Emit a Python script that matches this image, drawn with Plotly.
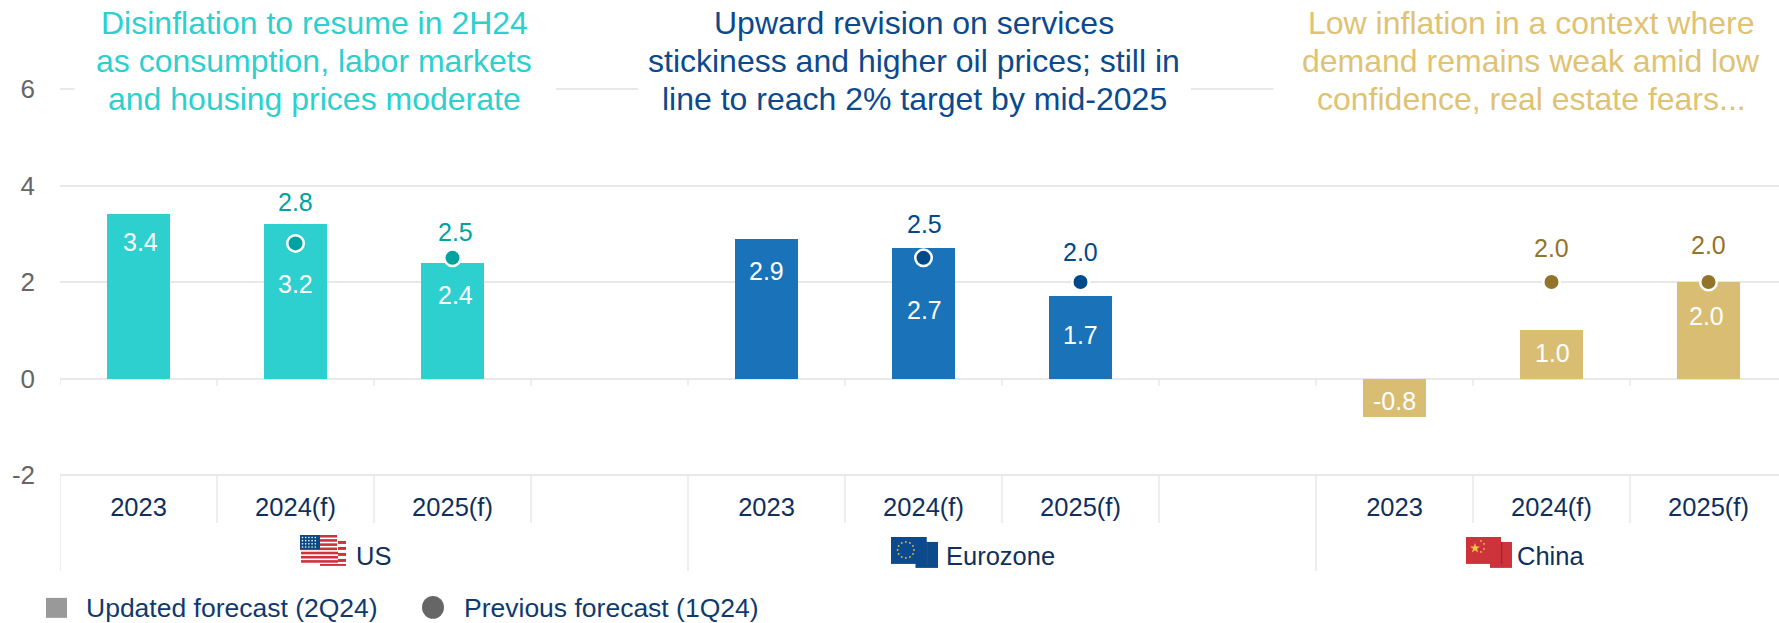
import plotly.graph_objects as go
from urllib.parse import quote

W, H = 1779, 623
UNIT = 48.3  # pixels per percentage point on the y axis
EDGE = 3     # spare pixels past the outer gridlines so they stay drawn
ML, MT, MB = 60, 88.6 - EDGE, 148 - EDGE
PLOT_W = W - ML
PLOT_H = H - MT - MB
BAND = 157  # pixel width of one category on the x axis
FONT = "Liberation Sans, Arial, sans-serif"

# Chart data
years = ["2023", "2024(f)", "2025(f)", "", "2023", "2024(f)", "2025(f)", "", "2023", "2024(f)", "2025(f)"]
us_idx = [0, 1, 2]
ez_idx = [4, 5, 6]
cn_idx = [8, 9, 10]
us_updated = [3.4, 3.2, 2.4]
ez_updated = [2.9, 2.7, 1.7]
cn_updated = [-0.8, 1.0, 2.0]
us_previous = [None, 2.8, 2.5]
ez_previous = [None, 2.5, 2.0]
cn_previous = [None, 2.0, 2.0]
y_ticks = [-2, 0, 2, 4, 6]
y_tick_text = ["-2", "0", "2", "4", "6"]

TEAL, TEAL_DK = "#2dcfcf", "#00a39f"
BLUE, BLUE_DK = "#1a73b8", "#004a8b"
GOLD, GOLD_DK = "#d8bd73", "#94742a"
NAVY = "#0f2f5c"
LEGEND_NAVY = "#0f3a6e"
GRID = "#e8e8e8"


def py(pixel):
    """Paper coordinate of a pixel row of the page."""
    return (H - MB - pixel) / PLOT_H


def px(pixel):
    """Paper coordinate of a pixel column of the page."""
    return (pixel - ML) / PLOT_W


fig = go.Figure()

regions = [
    (us_idx, us_updated, us_previous, TEAL, TEAL_DK),
    (ez_idx, ez_updated, ez_previous, BLUE, BLUE_DK),
    (cn_idx, cn_updated, cn_previous, GOLD, GOLD_DK),
]
for idx, upd, prev, col, dark in regions:
    fig.add_bar(x=idx, y=upd, width=0.395, marker=dict(color=col, line_width=0), showlegend=False)
for idx, upd, prev, col, dark in regions:
    fig.add_scatter(x=idx, y=prev, mode="markers", showlegend=False,
                    marker=dict(color=dark, size=16.5, line=dict(color="white", width=2.5)))

annotations = []


def label(x, y, text, color, shift, xshift=0):
    annotations.append(dict(x=x, y=y, xref="x", yref="y", text=text, showarrow=False, yshift=shift, xshift=xshift,
                            font=dict(family=FONT, size=25, color=color), xanchor="center", yanchor="middle"))


# Value labels inside the bars, offset from the bar end
inner_shift = {0: [-28, -60, -32], 1: [-32, -62, -39], 2: [16, -23, -34]}
inner_xshift = {0: [2, 0, 3], 1: [0, 1, 0], 2: [0, 1, -2]}
for r, (idx, upd, prev, col, dark) in enumerate(regions):
    for i, x in enumerate(idx):
        label(x, upd[i], f"{upd[i]:.1f}", "white", inner_shift[r][i], inner_xshift[r][i])

# Previous-forecast labels above the markers
outer_shift = {0: [0, 41, 26], 1: [0, 34, 30], 2: [0, 34, 37]}
outer_xshift = {0: [0, 0, 3], 1: [0, 1, 0], 2: [0, 0, 0]}
for r, (idx, upd, prev, col, dark) in enumerate(regions):
    for i, x in enumerate(idx):
        if prev[i] is not None:
            label(x, prev[i], f"{prev[i]:.1f}", dark, outer_shift[r][i], outer_xshift[r][i])

# Commentary above each region, one annotation per line for tight leading
headers = [
    (314, ["Disinflation to resume in 2H24", "as consumption, labor markets", "and housing prices moderate"], TEAL),
    (914, ["Upward revision on services", "stickiness and higher oil prices; still in",
           "line to reach 2% target by mid-2025"], "#0b4a8c"),
    (1531, ["Low inflation in a context where", "demand remains weak amid low",
            "confidence, real estate fears..."], "#dfc273"),
]
line_rows = [23, 61, 99]
for cx, lines, col in headers:
    for row, text in zip(line_rows, lines):
        annotations.append(dict(x=px(cx), xref="paper", y=py(row), yref="paper", text=text, showarrow=False,
                                font=dict(family=FONT, size=32, color=col), xanchor="center", yanchor="middle"))

# Region names under the year labels
for x, text in [(1.372, "US"), (5.13, "Eurozone"), (8.767, "China")]:
    annotations.append(dict(x=x, xref="x", y=py(556), yref="paper", text=text, showarrow=False, xanchor="left",
                            font=dict(family=FONT, size=25.5, color=NAVY), yanchor="middle"))

# Key for the two forecast vintages
for left, text in [(86, "Updated forecast (2Q24)"), (464, "Previous forecast (1Q24)")]:
    annotations.append(dict(x=px(left), xref="paper", y=py(608), yref="paper", text=text, showarrow=False,
                            xanchor="left", yanchor="middle", xshift=-2,
                            font=dict(family=FONT, size=26.5, color=LEGEND_NAVY)))

shapes = [
    dict(type="rect", xref="paper", yref="paper", x0=px(46), x1=px(67), y0=py(618), y1=py(598),
         fillcolor="#999999", line_width=0),
    dict(type="circle", xref="paper", yref="paper", x0=px(422), x1=px(444), y0=py(619), y1=py(596),
         fillcolor="#666666", line_width=0),
]

# Gaps in the top gridline behind the commentary
for left, right in [(74.5, 556), (638, 1191), (1273.5, W)]:
    shapes.append(dict(type="rect", xref="paper", yref="paper", x0=px(left), x1=px(right), y0=py(93), y1=py(84),
                       fillcolor="white", line_width=0, layer="above"))

# Dividers for the two-level category band and the small ticks under the zero line
for k in range(11):
    major = k % 4 == 0
    pos = k - 0.5
    shapes.append(dict(type="line", xref="x", yref="paper", x0=pos, x1=pos, y0=py(475), y1=py(571 if major else 523),
                       line=dict(color=GRID, width=1.5)))
    shapes.append(dict(type="line", xref="x", yref="y", x0=pos, x1=pos, y0=0, y1=-0.15,
                       line=dict(color=GRID, width=1.5)))


def svg_uri(body):
    return "data:image/svg+xml," + quote(
        f'<svg xmlns="http://www.w3.org/2000/svg" viewBox="0 0 46 31" width="46" height="31">{body}</svg>')


red = "#cc333b"
us_flag = (
    f'<rect x="20" y="6" width="26" height="25" fill="{red}"/><rect x="20" y="9" width="26" height="3" fill="#fff"/>'
    '<rect x="20" y="15" width="26" height="3" fill="#fff"/><rect x="20" y="21" width="26" height="3" fill="#fff"/>'
    '<rect x="20" y="27" width="26" height="2" fill="#fff"/>'
    f'<rect x="0" y="0" width="38" height="28" fill="#fff"/>'
    + "".join(f'<rect x="{1 if i > 3 else 0}" y="{i * 4.2:.1f}" width="37" height="2.6" fill="{red}"/>' for i in range(7))
    + '<rect x="0" y="0" width="20" height="14.5" fill="#0d4a85"/>'
    + "".join(f'<circle cx="{2.5 + c * 3.2:.1f}" cy="{2.5 + r * 3.2:.1f}" r="0.8" fill="#fff"/>'
              for r in range(4) for c in range(5))
)
stars = [(10.5, 5), (14.5, 6), (17.5, 9), (18.5, 13), (17.5, 17), (14.5, 20), (10.5, 21), (6.5, 20), (3.5, 17),
         (2.5, 13), (3.5, 9), (6.5, 6)]
eu_flag = (
    '<rect x="24" y="5" width="22" height="26" fill="#0b4a8c"/>'
    '<rect x="0" y="0" width="35" height="27" fill="#0b4a8c"/>'
    '<rect x="35" y="5" width="1" height="24" fill="#3a4a70"/>'
    + "".join(f'<circle cx="{x + 4}" cy="{y}" r="0.9" fill="#e8c040"/>' for x, y in stars)
)
cn_flag = (
    f'<rect x="24" y="5" width="22" height="26" fill="{red}"/><rect x="35" y="5" width="1.2" height="22" fill="#8f2a33"/>'
    f'<rect x="0" y="0" width="35" height="27" fill="{red}"/>'
    '<polygon points="9,6 10.2,9.5 14,9.5 11,11.8 12.1,15.5 9,13.2 5.9,15.5 7,11.8 4,9.5 7.8,9.5" fill="#f4c542"/>'
    + "".join(f'<circle cx="{x}" cy="{y}" r="0.9" fill="#f4c542"/>' for x, y in [(15, 4), (18, 7), (18, 12), (15, 15)])
)
images = [
    dict(source=svg_uri(us_flag), x=px(300), y=py(535), sizex=46 / PLOT_W, sizey=31 / PLOT_H),
    dict(source=svg_uri(eu_flag), x=px(891), y=py(537), sizex=47 / PLOT_W, sizey=31 / PLOT_H),
    dict(source=svg_uri(cn_flag), x=px(1466), y=py(537), sizex=46 / PLOT_W, sizey=31 / PLOT_H),
]
for im in images:
    im.update(xref="paper", yref="paper", xanchor="left", yanchor="top", sizing="stretch", layer="above")

fig.update_layout(
    width=W, height=H, margin=dict(l=ML, r=0, t=MT, b=MB, pad=0, autoexpand=False),
    paper_bgcolor="white", plot_bgcolor="white", bargap=0, barmode="overlay", showlegend=False,
    annotations=annotations, shapes=shapes, images=images,
)
fig.update_xaxes(range=[-0.5, PLOT_W / BAND - 0.5], tickmode="array", tickvals=list(range(len(years))),
                 ticktext=years, ticks="", showgrid=False, zeroline=False, showline=False,
                 ticklabelstandoff=11, tickfont=dict(family=FONT, size=25.5, color=NAVY), fixedrange=True)
fig.update_yaxes(range=[-2 - EDGE / UNIT, 6 + EDGE / UNIT], tickmode="array", tickvals=y_ticks, ticktext=y_tick_text,
                 ticks="", showgrid=True, gridcolor=GRID, gridwidth=1.5, zeroline=True, zerolinecolor=GRID,
                 zerolinewidth=2, showline=False, ticklabelstandoff=24,
                 tickfont=dict(family=FONT, size=26, color="#666666"), fixedrange=True)

fig.write_html("out.html", config=dict(displayModeBar=False))
